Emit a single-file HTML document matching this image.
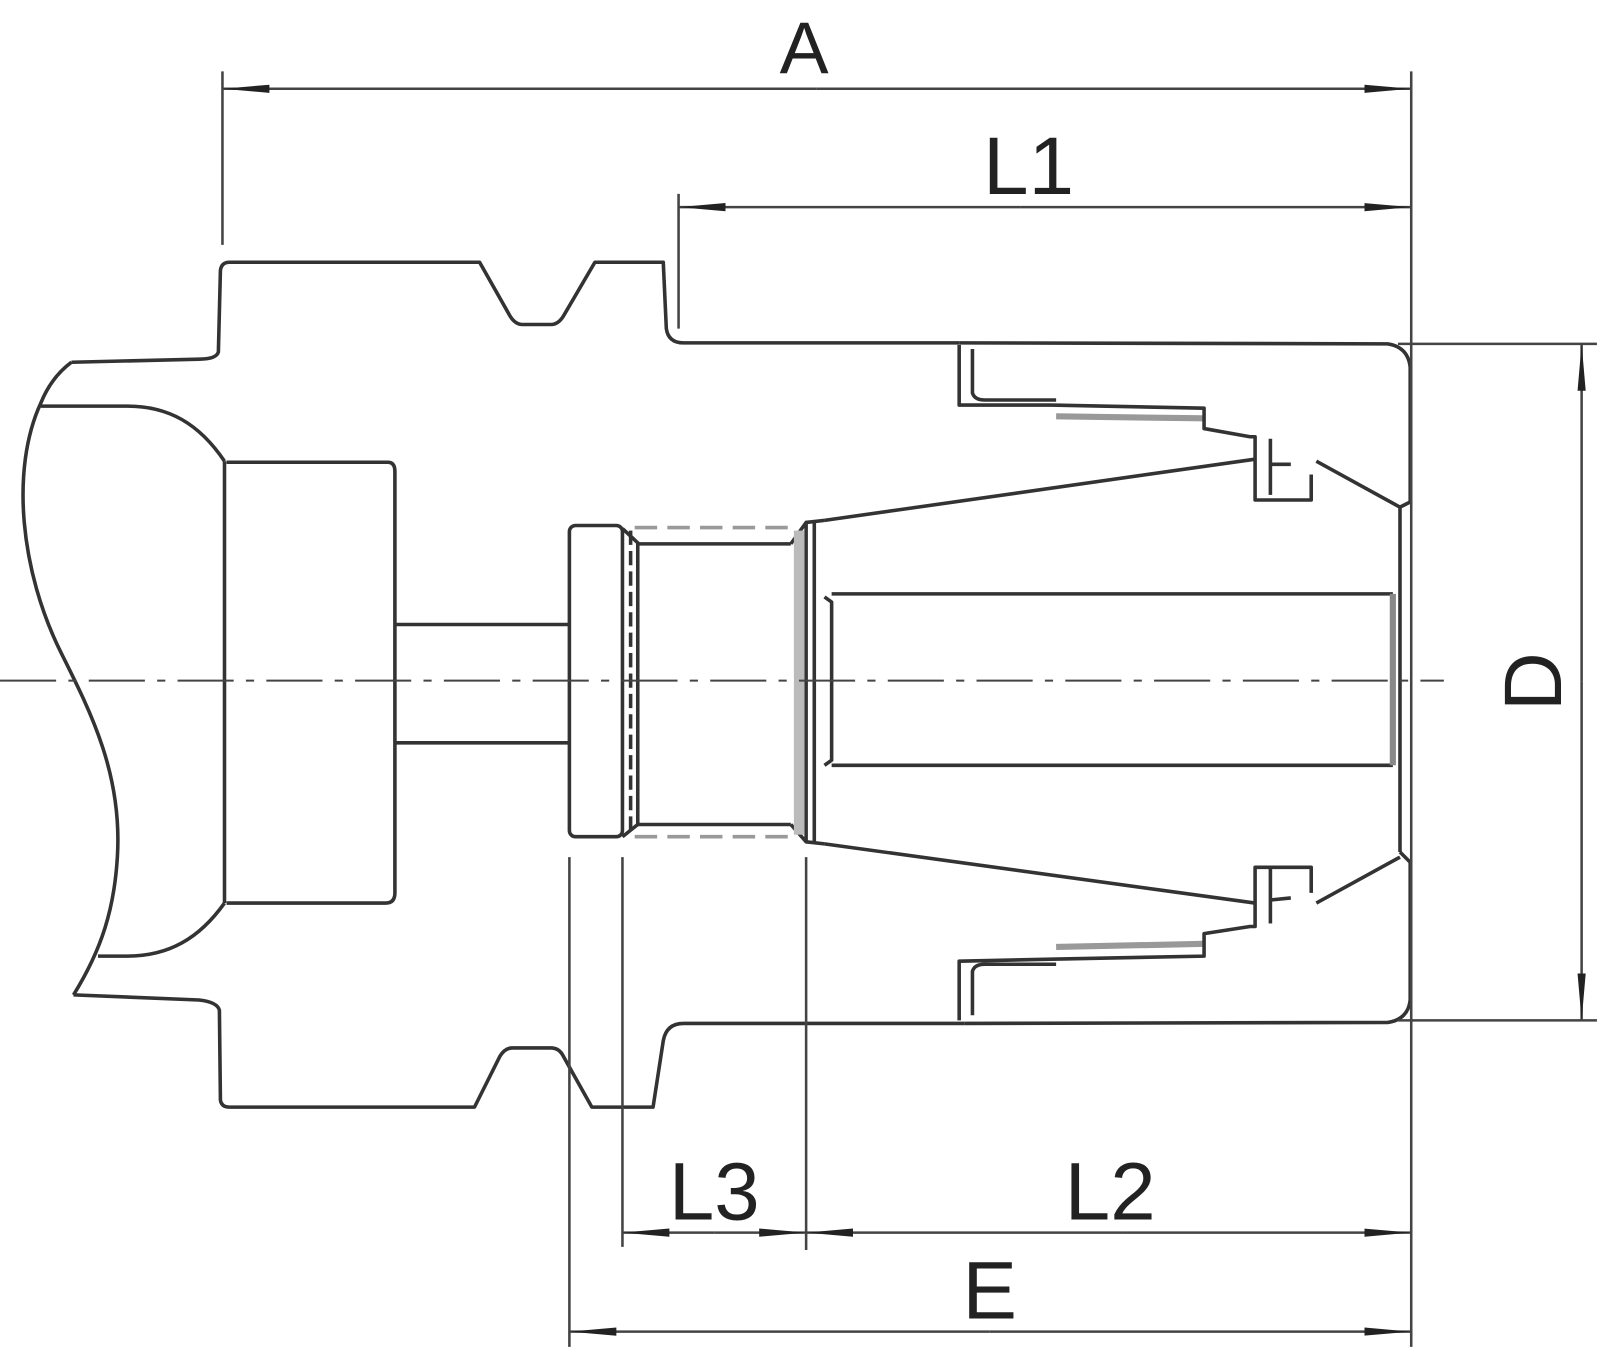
<!DOCTYPE html>
<html><head><meta charset="utf-8"><style>
html,body{margin:0;padding:0;background:#fff;}
svg{display:block;}
text{font-family:"Liberation Sans",sans-serif;fill:#222;}
</style></head><body>
<svg width="1600" height="1351" viewBox="0 0 1568 1324" xmlns="http://www.w3.org/2000/svg">
<defs>
<marker id="ar" markerWidth="46" markerHeight="12" refX="46" refY="6" orient="auto" markerUnits="userSpaceOnUse">
<path d="M0,2 L46,6 L0,10 Z" fill="#222"/>
</marker>
</defs>
<g fill="none" stroke="#333" stroke-width="3.5" stroke-linejoin="round">
<path d="M70,355 L195,352 Q212,352 214,345 L216,265 Q217,257 225,257 L470,257 L500,310 Q505,318 512,318 L540,318 Q547,318 552,310 L583,257 L650,257 L653,322 Q655,336 670,336 L940,336"/>
<path d="M72,975 L195,980 Q213,982 215,990 L216,1078 Q217,1085 225,1085 L465,1085 L490,1035 Q495,1027 502,1027 L540,1027 Q548,1027 552,1035 L580,1085 L640,1085 L650,1020 Q653,1003 670,1003 L945,1003"/>
<path d="M70,355 Q50,370 40,395 C10,460 20,560 60,640 C90,700 120,760 115,840 C112,890 100,930 72,975"/>
<path d="M40,398 L125,398 C165,398 195,415 220,452"/>
<path d="M96,937 L125,937 C165,937 195,920 220,885"/>
<path d="M220,452 L220,885"/>
<path d="M222,453 L380,453 Q387,453 387,462 L387,875 Q387,885 378,885 L222,885"/>
<path d="M387,612 L558,612 M387,728 L558,728"/>
<rect x="558" y="515" width="52" height="305" rx="6"/>
<path d="M610,518 L625,532 L625,808 L610,820"/>
<path d="M618,520 L618,818" stroke-dasharray="14,6"/>
<path d="M625,533 L775,533 M625,808 L775,808"/>
<path d="M622,517 L780,517 M622,820 L780,820" stroke="#999" stroke-dasharray="22,10"/>
<path d="M775,533 L790,512 L790,825 L775,808"/>
<rect x="778" y="520" width="10" height="298" fill="#bbb" stroke="none"/>
<path d="M798,512 L798,825"/>
<path d="M790,512 L808,510 M790,825 L808,827"/>
<path d="M808,510 L1230,450"/>
<path d="M808,827 L1230,885"/>
<path d="M808,585 L815,590 L815,745 L808,750"/>
<path d="M815,582 L1365,582 M815,750 L1365,750"/>
<path d="M1365,582 L1365,750" stroke-width="6" stroke="#888"/>
<path d="M940,336 L1360,337 Q1380,340 1382,360 L1382,492"/>
<path d="M940,338 L940,397 L1030,397"/>
<path d="M953,342 L953,385 Q955,392 965,392 L1035,392"/>
<path d="M1035,408 L1180,410" stroke="#999" stroke-width="6"/>
<path d="M1030,397 L1180,400 L1180,420 L1225,428 L1230,428 L1230,490 L1285,490 L1285,465"/>
<path d="M1245,430 L1245,485"/>
<path d="M1245,455 L1265,455 M1290,452 L1372,497 L1372,835"/>
<path d="M1382,492 L1372,497"/>
<path d="M945,1003 L1360,1002 Q1380,999 1382,980 L1382,845 L1372,835"/>
<path d="M940,1000 L940,942 L1030,940"/>
<path d="M953,995 L953,952 Q955,945 965,945 L1035,945"/>
<path d="M1035,928 L1180,925" stroke="#999" stroke-width="6"/>
<path d="M1030,940 L1180,937 L1180,915 L1225,908 L1230,908 L1230,850 L1285,850 L1285,875"/>
<path d="M1245,850 L1245,905"/>
<path d="M1245,882 L1265,880 M1290,885 L1372,840"/>
</g>
<path d="M0,667 L1415,667" stroke="#444" stroke-width="2" stroke-dasharray="55,12,8,12" fill="none"/>
<g stroke="#444" stroke-width="2.5" fill="none">
<path d="M218,70 L218,240 M1383,70 L1383,1320 M665,190 L665,322 M1370,337 L1565,337 M1370,1000 L1565,1000 M558,840 L558,1320 M610,840 L610,1222 M790,840 L790,1225"/>
<path d="M800,87 L218,87" marker-end="url(#ar)"/>
<path d="M800,87 L1383,87" marker-end="url(#ar)"/>
<path d="M1000,203 L665,203" marker-end="url(#ar)"/>
<path d="M1000,203 L1383,203" marker-end="url(#ar)"/>
<path d="M1550,668 L1550,337" marker-end="url(#ar)"/>
<path d="M1550,668 L1550,1000" marker-end="url(#ar)"/>
<path d="M700,1208 L610,1208" marker-end="url(#ar)"/>
<path d="M700,1208 L790,1208" marker-end="url(#ar)"/>
<path d="M1100,1208 L790,1208" marker-end="url(#ar)"/>
<path d="M1100,1208 L1383,1208" marker-end="url(#ar)"/>
<path d="M970,1305 L558,1305" marker-end="url(#ar)"/>
<path d="M970,1305 L1383,1305" marker-end="url(#ar)"/>
</g>
<text x="788" y="72" font-size="72" text-anchor="middle">A</text>
<text x="1008" y="190" font-size="80" text-anchor="middle">L1</text>
<text x="700" y="1195" font-size="80" text-anchor="middle">L3</text>
<text x="1088" y="1195" font-size="80" text-anchor="middle">L2</text>
<text x="970" y="1292" font-size="80" text-anchor="middle">E</text>
<text x="0" y="0" font-size="80" text-anchor="middle" transform="translate(1530,668) rotate(-90)">D</text>
</svg>
</body></html>
